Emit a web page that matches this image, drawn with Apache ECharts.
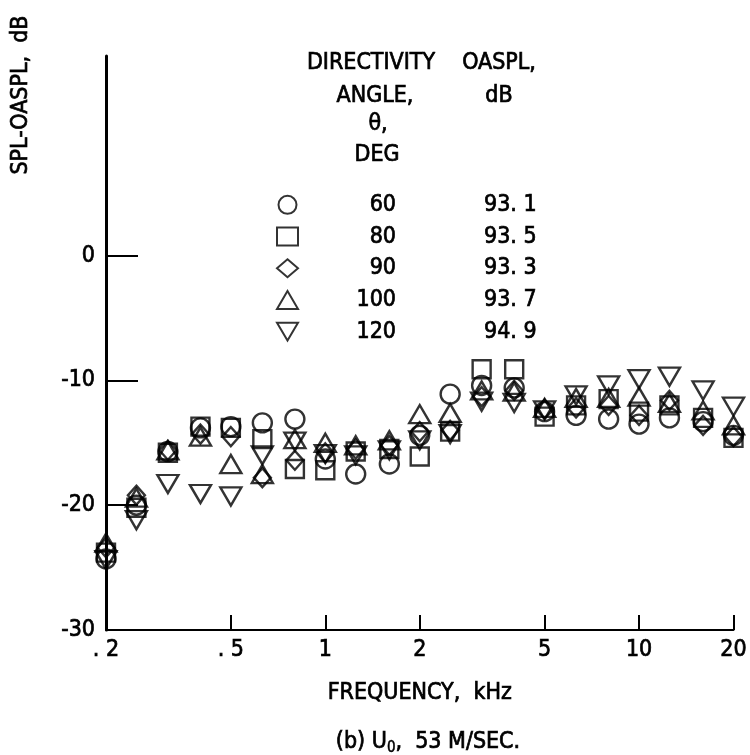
<!DOCTYPE html>
<html>
<head>
<meta charset="utf-8">
<script src="https://cdn.jsdelivr.net/npm/echarts@6/dist/echarts.min.js"></script>
<style>
  html, body { margin: 0; padding: 0; background: #fff; }
  #chart { width: 750px; height: 755px; }
</style>
</head>
<body>
<div id="chart"></div>
<script>
// One-third-octave band centre frequencies, kHz
const freqs = [0.2, 0.25, 0.315, 0.4, 0.5, 0.63, 0.8, 1, 1.25, 1.6, 2, 2.5, 3.15, 4, 5, 6.3, 8, 10, 12.5, 16, 20];

// SPL - OASPL, dB, for each directivity angle
const spl60  = [-24.3, -20.0, -15.7, -13.8, -13.7, -13.4, -13.1, -16.3, -17.5, -16.7, -14.4, -11.1, -10.4, -10.6, -12.5, -12.8, -13.1, -13.5, -13.0, -13.3, -14.4];
const spl80  = [-23.8, -20.2, -15.8, -13.7, -13.8, -14.7, -17.1, -17.2, -15.7, -15.5, -16.1, -14.1,  -9.1,  -9.1, -12.9, -12.0, -11.5, -12.5, -12.0, -13.0, -14.6];
const spl90  = [-23.4, -19.2, -15.6, -14.3, -14.5, -17.8, -16.4, -15.8, -15.5, -15.2, -14.1, -14.0, -11.3, -10.8, -12.3, -12.2, -12.0, -12.8, -11.6, -13.6, -14.5];
const spl100 = [-23.0, -19.4, -15.6, -14.5, -16.7, -17.5, -14.7, -15.0, -15.2, -14.8, -12.7, -12.6, -10.8, -10.9, -12.2, -11.4, -11.4, -11.3, -11.8, -12.4, -13.6];
const spl120 = [-24.4, -21.2, -18.3, -19.1, -19.3, -16.0, -14.9, -15.9, -16.0, -15.6, -14.8, -14.3, -11.7, -11.8, -12.4, -11.2, -10.4,  -9.9,  -9.7, -10.8, -12.1];

// Legend table
const angles = ['60', '80', '90', '100', '120'];
const oaspl  = ['93. 1', '93. 5', '93. 3', '93. 7', '94. 9'];

// Axis ticks and labels
const xTicks = [0.2, 0.5, 1, 2, 5, 10, 20];
const xTickLabels = ['. 2', '. 5', '1', '2', '5', '10', '20'];
const yTicks = [-30, -20, -10, 0];

const FONT = '"DejaVu Sans Condensed", "Liberation Sans Narrow", "Liberation Sans", sans-serif';
const FS = 23;
const INK = '#000';
// a thin outline of the same colour gives the heavier lettering
const HEAVY = { textBorderColor: INK, textBorderWidth: 0.7 };

const symbols = [
  { symbol: 'circle', size: 19 },
  { symbol: 'rect', size: 18 },
  { symbol: 'diamond', size: [17, 19] },
  { symbol: 'path://M10,0L20,17L0,17Z', size: [21, 18] },
  { symbol: 'path://M0,0L20,0L10,17Z', size: [21, 18] }
];
const seriesData = [spl60, spl80, spl90, spl100, spl120];

const series = seriesData.map((vals, i) => ({
  name: angles[i],
  type: 'scatter',
  symbol: symbols[i].symbol,
  symbolSize: symbols[i].size,
  itemStyle: { color: 'rgba(0,0,0,0)', borderColor: INK, borderWidth: 2.4 },
  emphasis: { disabled: true },
  data: freqs.map((f, k) => [f, vals[k]])
}));

function label(text, x, y, extra) {
  return {
    type: 'text', x: x, y: y,
    style: Object.assign({ text: text, fontFamily: FONT, fontSize: FS, fill: INK, stroke: INK, lineWidth: 0.7, align: 'center', verticalAlign: 'middle' }, extra || {})
  };
}

const axisText = Object.assign({ fontFamily: FONT, fontSize: FS, color: INK }, HEAVY);

const chart = echarts.init(document.getElementById('chart'), null, { renderer: 'canvas' });

chart.setOption({
  animation: false,
  backgroundColor: '#fff',
  grid: { left: 106, right: 13, top: 56, bottom: 125, containLabel: false },
  xAxis: {
    type: 'log',
    logBase: 10,
    min: 0.2,
    max: 20,
    name: 'FREQUENCY,  kHz',
    nameLocation: 'middle',
    nameGap: 52,
    nameTextStyle: axisText,
    axisLine: { show: true, onZero: false, lineStyle: { color: INK, width: 2 } },
    axisTick: { show: true, inside: true, length: 15, customValues: xTicks, lineStyle: { color: INK, width: 2 } },
    minorTick: { show: false },
    axisLabel: Object.assign({
      customValues: xTicks,
      margin: 9,
      formatter: v => {
        const idx = xTicks.findIndex(t => Math.abs(t - v) < 1e-6);
        return idx >= 0 ? xTickLabels[idx] : '';
      }
    }, axisText),
    splitLine: { show: false }
  },
  yAxis: {
    type: 'value',
    min: -30,
    max: 16,
    interval: 10,
    axisLine: { show: true, onZero: false, lineStyle: { color: INK, width: 3 } },
    axisTick: { show: true, inside: true, length: 32, customValues: [-20, -10, 0], lineStyle: { color: INK, width: 2 } },
    axisLabel: Object.assign({ customValues: yTicks, margin: 11 }, axisText),
    splitLine: { show: false }
  },
  legend: {
    orient: 'vertical',
    left: 271,
    top: 188,
    itemWidth: 21,
    itemHeight: 18,
    itemGap: 8,
    selectedMode: false,
    data: angles,
    formatter: name => {
      const i = angles.indexOf(name);
      return '{a|' + name + '}{b|' + oaspl[i] + '}';
    },
    textStyle: Object.assign({
      rich: {
        a: Object.assign({ width: 93, align: 'right' }, axisText),
        b: Object.assign({ align: 'right', padding: [0, 0, 0, 88] }, axisText)
      }
    }, axisText)
  },
  graphic: [
    label('SPL-OASPL,  dB', 21, 95),
    label('DIRECTIVITY', 371, 63),
    label('OASPL,', 499, 63),
    label('ANGLE,', 375, 96),
    label('dB', 499, 96),
    label('θ,', 378, 124),
    label('DEG', 377, 155),
    label('(b) U{s|0},  53 M/SEC.', 428, 742, {
      rich: { s: { fontFamily: FONT, fontSize: 15, fill: INK, stroke: INK, lineWidth: 0.5, verticalAlign: 'bottom', padding: [12, 0, 0, 0] } }
    })
  ].map((g, i) => (i === 0 ? Object.assign(g, { rotation: Math.PI / 2 }) : g)),
  series: series
});
</script>
</body>
</html>
